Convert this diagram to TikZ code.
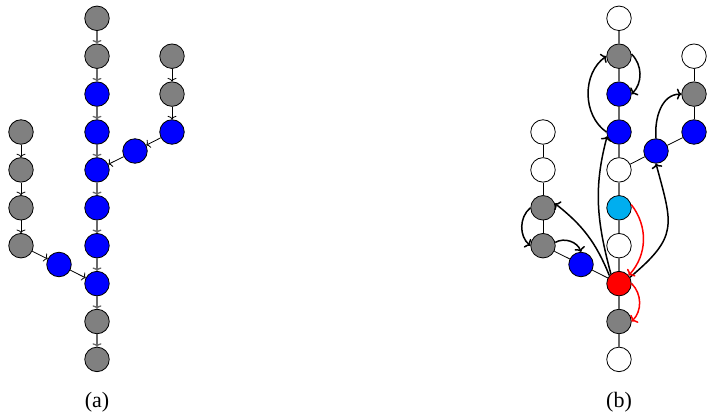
\documentclass[tikz,border=0pt]{standalone}
\usepackage{fontspec}
\setmainfont{Liberation Serif}
\usepackage{tikz}
\usetikzlibrary{arrows.meta}
\definecolor{ncyan}{RGB}{0,174,239}
\definecolor{ngray}{RGB}{128,128,128}
\definecolor{egray}{RGB}{105,105,105}
\begin{document}
\begin{tikzpicture}[x=1pt,y=1pt,
  vtx/.style={circle,draw=black,line width=0.8pt,minimum size=24.5pt,inner sep=0pt},
  gv/.style={vtx,fill=ngray},
  bv/.style={vtx,fill=blue},
  wv/.style={vtx,fill=white},
  cv/.style={vtx,fill=ncyan},
  rv/.style={vtx,fill=red},
  tip/.style={-{To[length=3.5pt,width=9pt]}},
  marr/.style={tip,draw=egray,line width=1.3pt},
  barr/.style={tip,draw=black,line width=0.8pt},
  mline/.style={draw=egray,line width=1.3pt},
  bline/.style={draw=black,line width=0.8pt},
  carr/.style={-{To[length=4.5pt,width=11pt]},draw=black,line width=1.5pt},
  rarr/.style={-{To[length=4.5pt,width=11pt]},draw=red,line width=1.5pt},
  lab/.style={font=\fontsize{22}{26}\selectfont}
]
\useasboundingbox (0,0) rectangle (708,418);
% ---------------- (a) ----------------
\node[gv] (a0) at (97,399.7) {};
\node[gv] (a1) at (97,361.8) {};
\node[bv] (a2) at (97,323.9) {};
\node[bv] (a3) at (97,286) {};
\node[bv] (a4) at (97,248.1) {};
\node[bv] (a5) at (97,210.2) {};
\node[bv] (a6) at (97,172.3) {};
\node[bv] (a7) at (97,134.4) {};
\node[gv] (a8) at (97,96.5) {};
\node[gv] (a9) at (97,58.6) {};
\node[gv] (r0) at (172,361.8) {};
\node[gv] (r1) at (172,323.9) {};
\node[bv] (r2) at (172,286) {};
\node[bv] (ri) at (135,267) {};
\node[gv] (l0) at (21,286) {};
\node[gv] (l1) at (21,248.1) {};
\node[gv] (l2) at (21,210.2) {};
\node[gv] (l3) at (21,172.3) {};
\node[bv] (li) at (59,153.5) {};
\foreach \u/\v in {a0/a1,a1/a2,a2/a3,a3/a4,a4/a5,a5/a6,a6/a7,a7/a8,a8/a9}
  \draw[marr] (\u) -- (\v);
\foreach \u/\v in {r0/r1,r1/r2,r2/ri,ri/a4,l0/l1,l1/l2,l2/l3,l3/li,li/a7}
  \draw[barr] (\u) -- (\v);
\node[lab] (la) at (97,16) {(a)};
% ---------------- (b) ----------------
\node[wv] (b0) at (619,399.7) {};
\node[gv] (b1) at (619,361.8) {};
\node[bv] (b2) at (619,323.9) {};
\node[bv] (b3) at (619,286) {};
\node[wv] (b4) at (619,248.1) {};
\node[cv] (b5) at (619,210.2) {};
\node[wv] (b6) at (619,172.3) {};
\node[rv] (b7) at (619,134.4) {};
\node[gv] (b8) at (619,96.5) {};
\node[wv] (b9) at (619,58.6) {};
\node[wv] (s0) at (694,361.8) {};
\node[gv] (s1) at (694,323.9) {};
\node[bv] (s2) at (694,286) {};
\node[bv] (si) at (656,267) {};
\node[wv] (t0) at (543,286) {};
\node[wv] (t1) at (543,248.1) {};
\node[gv] (t2) at (543,210.2) {};
\node[gv] (t3) at (543,172.3) {};
\node[bv] (ti) at (581,153.5) {};
\foreach \u/\v in {b0/b1,b1/b2,b2/b3,b3/b4,b4/b5,b5/b6,b6/b7,b7/b8,b8/b9}
  \draw[mline] (\u) -- (\v);
\foreach \u/\v in {s0/s1,s1/s2,s2/si,si/b4,t0/t1,t1/t2,t2/t3,t3/ti,ti/b7}
  \draw[bline] (\u) -- (\v);
% curved arrows
\draw[carr] (b7.130) to[out=105,in=255] (b3.200);
\draw[carr] (b3.west) to[bend left=55] (b1.west);
\draw[carr] (b1.10) to[bend left=45] (b2.east);
\draw[carr] (b7.30) to[out=40,in=-75,looseness=1.4] (si.south);
\draw[carr] (si.north) to[out=95,in=180] (s1.west);
\draw[carr] (b7.140) to[bend right=15] (t2.20);
\draw[carr] (t2.west) to[bend right=50] (t3.west);
\draw[carr] (t3.15) to[bend left=50] (ti.north);
\draw[rarr] (b5.15) to[bend left=40] (b7.40);
\draw[rarr] (b7.east) to[bend left=45] (b8.east);
\node[lab] (lb) at (619,16) {(b)};
\end{tikzpicture}
\end{document}
